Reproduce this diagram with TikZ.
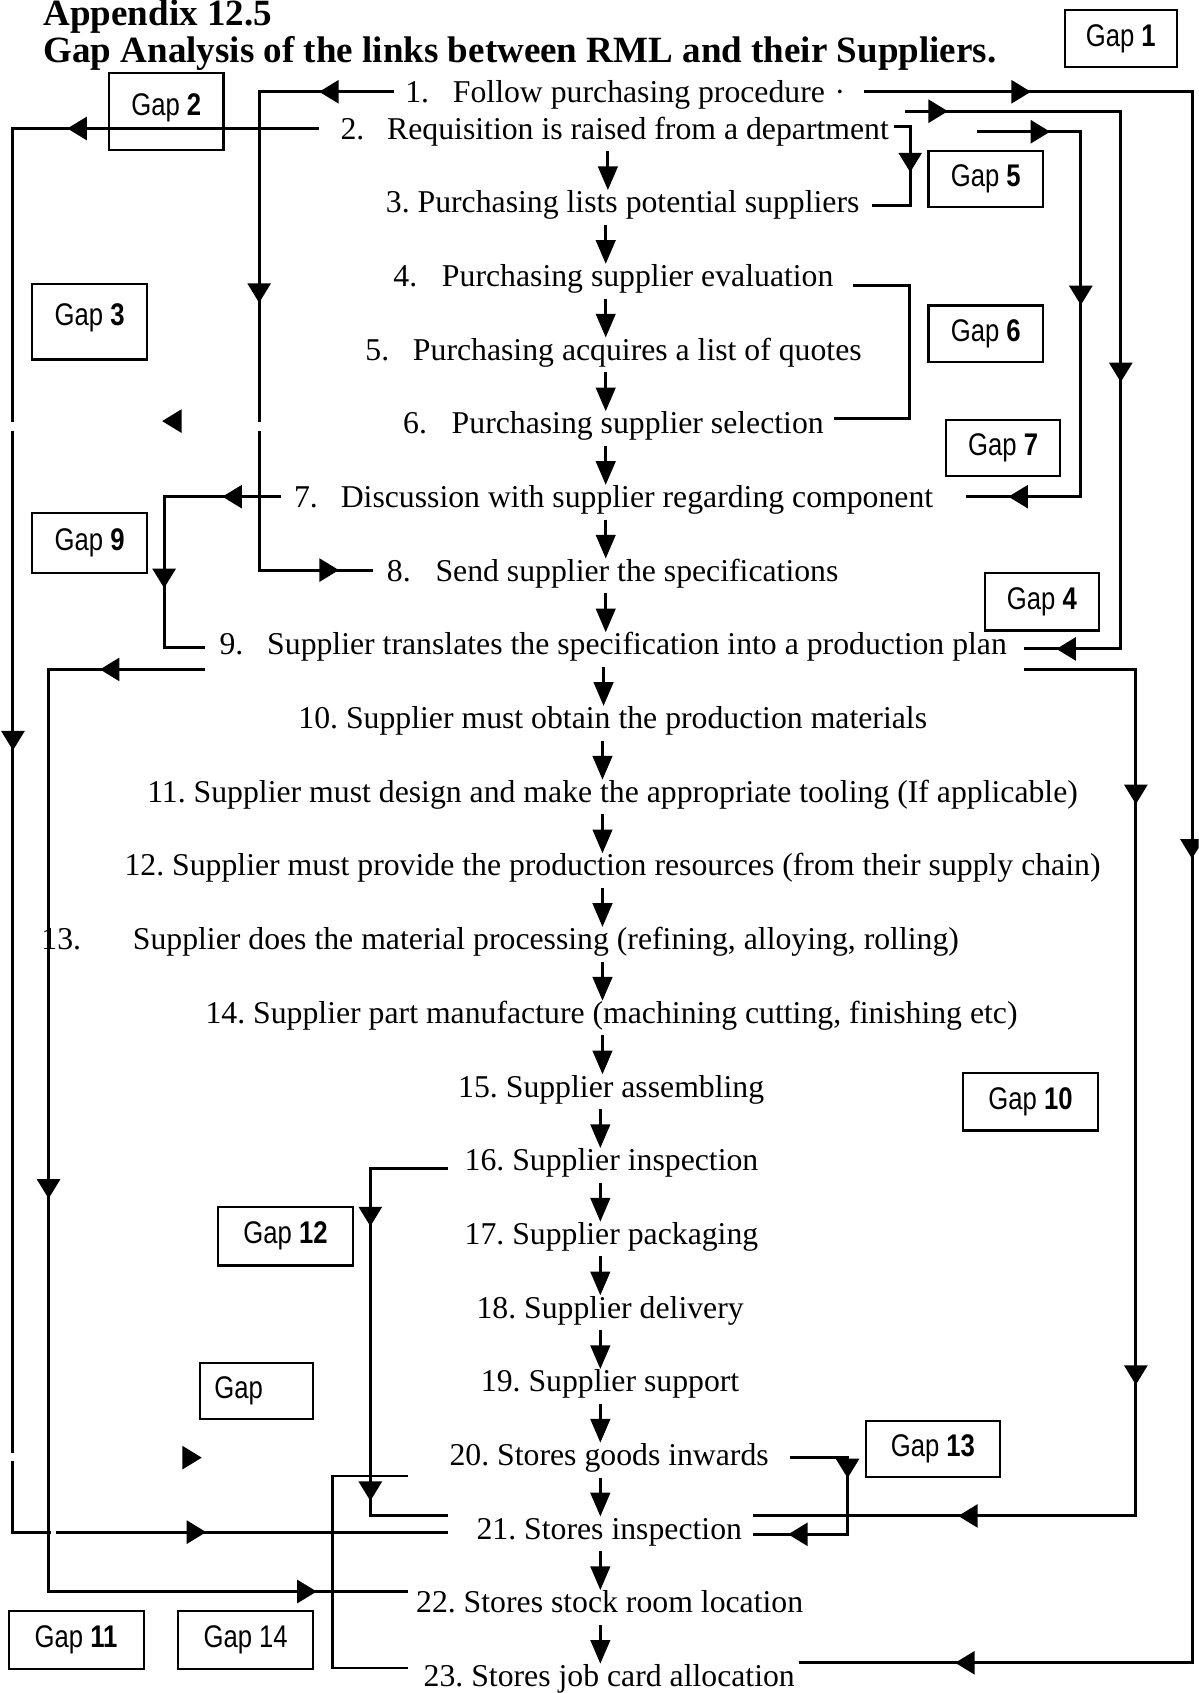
\documentclass[tikz,border=0pt]{standalone}
\usepackage{fontspec}
\setmainfont{Liberation Serif}
\newfontfamily\gapfont[FakeStretch=0.82]{Liberation Sans}
\usetikzlibrary{arrows.meta,shapes.geometric}
\frenchspacing
\begin{document}
\begin{tikzpicture}[x=0.5pt,y=-0.5pt,
  row/.style={anchor=west,inner sep=0pt,yshift=-1.5pt,text height=10.3pt,text depth=3.4pt,font=\fontsize{14.7}{17}\selectfont},
  heading/.style={anchor=base west,inner sep=0pt,font=\fontsize{17.15}{20}\selectfont\bfseries},
  gapbox/.style={draw,line width=1pt,inner sep=0pt,font=\gapfont\fontsize{14.5}{17}\selectfont},
  conn/.style={line width=1.4pt},
  fineconn/.style={line width=1pt},
  tri/.style={isosceles triangle,isosceles triangle stretches=true,minimum width=11pt,minimum height=9pt,inner sep=0pt,fill=black,draw=none},
  tipmark/.style={tri,sloped,allow upside down},
  flow/.style={line width=1.4pt,shorten <=2pt,-{Triangle[length=11pt,width=9pt]}}
]
\useasboundingbox (0,0) rectangle (1110,1568);
\clip (0,0) rectangle (1110,1568);

% headings
\node[heading] (t1) at (40,24) {Appendix 12.5};
\node[heading] (t2) at (40,58) {Gap Analysis of the links between RML and their Suppliers.};

% process steps
\node[row] (r1)  at (375,85)     {1.\hspace{0.75em}Follow purchasing procedure\hspace{0.3em}·};
\node[row] (r2)  at (315,119)    {2.\hspace{0.72em}Requisition is raised from a department};
\node[row] (r3)  at (357,187.2)  {3. Purchasing lists potential suppliers};
\node[row] (r4)  at (364,255.5)  {4.\hspace{0.78em}Purchasing supplier evaluation};
\node[row] (r5)  at (338,323.7)  {5.\hspace{0.75em}Purchasing acquires a list of quotes};
\node[row] (r6)  at (373,392)    {6.\hspace{0.78em}Purchasing supplier selection};
\node[row] (r7)  at (272,460.2)  {7.\hspace{0.72em}Discussion with supplier regarding component};
\node[row] (r8)  at (358,528.4)  {8.\hspace{0.78em}Send supplier the specifications};
\node[row] (r9)  at (203,596.7)  {9.\hspace{0.75em}Supplier translates the specification into a production plan};
\node[row] (r10) at (276,664.9)  {10. Supplier must obtain the production materials};
\node[row] (r11) at (136,733.2)  {11. Supplier must design and make the appropriate tooling (If applicable)};
\node[row] (r12) at (115,801.4)  {12. Supplier must provide the production resources (from their supply chain)};
\node[row] (r13) at (38,869.6)   {13.\hspace{1.63em}Supplier does the material processing (refining, alloying, rolling)};
\node[row] (r14) at (190,937.9)  {14. Supplier part manufacture (machining cutting, finishing etc)};
\node[row] (r15) at (424,1006.1) {15. Supplier assembling};
\node[row] (r16) at (430,1074.4) {16. Supplier inspection};
\node[row] (r17) at (430,1142.6) {17. Supplier packaging};
\node[row] (r18) at (441,1210.8) {18. Supplier delivery};
\node[row] (r19) at (445,1279.1) {19. Supplier support};
\node[row] (r20) at (416,1347.3) {20. Stores goods inwards};
\node[row] (r21) at (441,1415.6) {21. Stores inspection};
\node[row] (r22) at (385,1483.8) {22. Stores stock room location};
\node[row] (r23) at (392,1552)   {23. Stores job card allocation};

% main flow arrows
\foreach \a/\b/\x in {r2/r3/563,r3/r4/561,r4/r5/561,r5/r6/561,r6/r7/561,r7/r8/561,r8/r9/561,
  r9/r10/559,r10/r11/558,r11/r12/558,r12/r13/558,r13/r14/558,r14/r15/558,r15/r16/556,
  r16/r17/556,r17/r18/556,r18/r19/556,r19/r20/556,r20/r21/556,r21/r22/556,r22/r23/556}
  \draw[flow] (\a.south -| \x,0) -- (\b.north -| \x,0);

% gap labels
\node[gapbox,minimum width=52pt,minimum height=26.5pt] (g1)  at (1038,35.5)  {Gap \textbf{1}};
\node[gapbox,minimum width=53pt,minimum height=35.5pt] (g2)  at (154,103.5)  {\raisebox{7pt}{Gap \textbf{2}}};
\node[gapbox,minimum width=53pt,minimum height=35pt]   (g3)  at (83,298)     {\raisebox{6.5pt}{Gap \textbf{3}}};
\node[gapbox,minimum width=53pt,minimum height=26pt]   (g5)  at (913,166)    {Gap \textbf{5}};
\node[gapbox,minimum width=53pt,minimum height=26pt]   (g6)  at (913,309)    {Gap \textbf{6}};
\node[gapbox,minimum width=53pt,minimum height=26pt]   (g7)  at (929,415)    {Gap \textbf{7}};
\node[gapbox,minimum width=53pt,minimum height=28pt]   (g9)  at (83,503)     {Gap \textbf{9}};
\node[gapbox,minimum width=53pt,minimum height=26.5pt] (g4)  at (965,557.5)  {Gap \textbf{4}};
\node[gapbox,minimum width=62.5pt,minimum height=26.5pt] (g10) at (954.5,1020.5) {Gap \textbf{10}};
\node[gapbox,minimum width=62.5pt,minimum height=27pt] (g12) at (264.5,1145) {Gap \textbf{12}};
\node[gapbox,minimum width=52.5pt,minimum height=26pt] (gx)  at (237.5,1288) {Gap\phantom{ 14}};
\node[gapbox,minimum width=62pt,minimum height=26pt]   (g13) at (864,1342)   {Gap \textbf{13}};
\node[gapbox,minimum width=62.5pt,minimum height=27pt] (g11) at (70.5,1519)  {Gap \textbf{11}};
\node[gapbox,minimum width=62.5pt,minimum height=27pt] (g14) at (227.5,1519) {Gap 14};

% corner points of the gap links
\coordinate (a1) at (800,85);   \coordinate (a2) at (1104,85);
\coordinate (a3) at (1104,1540);\coordinate (a4) at (740,1540);
\coordinate (b1) at (838,103);  \coordinate (b2) at (1038,103);
\coordinate (b3) at (1038,601); \coordinate (b4) at (948,601);
\coordinate (c1) at (905,122);  \coordinate (c2) at (1001,122);
\coordinate (c3) at (1001,460); \coordinate (c4) at (895,460);
\coordinate (d1) at (365,85);   \coordinate (d2) at (240,85);
\coordinate (d3) at (240,391);  \coordinate (d4) at (240,399);
\coordinate (d5) at (240,528);  \coordinate (d6) at (345,528);
\coordinate (e1) at (295,119);  \coordinate (e2) at (12,119);
\coordinate (e3) at (12,391);   \coordinate (e4) at (12,399);
\coordinate (e5) at (12,1346);  \coordinate (e6) at (12,1353);
\coordinate (e7) at (12,1419);  \coordinate (e8) at (47,1419);
\coordinate (e9) at (52,1419);  \coordinate (e10) at (415,1419);
\coordinate (f1) at (828,117);  \coordinate (f2) at (843,117);
\coordinate (f3) at (843,190);  \coordinate (f4) at (808,190);
\coordinate (h1) at (790,264);  \coordinate (h2) at (842,264);
\coordinate (h3) at (842,388);  \coordinate (h4) at (772,388);
\coordinate (i1) at (260,460);  \coordinate (i2) at (152,460);
\coordinate (i3) at (152,600);  \coordinate (i4) at (190,600);
\coordinate (j1) at (190,620);  \coordinate (j2) at (45,620);
\coordinate (j3) at (45,1474);  \coordinate (j4) at (378,1474);
\coordinate (k1) at (948,620);  \coordinate (k2) at (1052,620);
\coordinate (k3) at (1052,1404);\coordinate (k4) at (697,1404);
\coordinate (l1) at (732,1350); \coordinate (l2) at (785,1350);
\coordinate (l3) at (785,1421); \coordinate (l4) at (697,1421);
\coordinate (m1) at (415,1082); \coordinate (m2) at (343,1082);
\coordinate (m3) at (343,1404); \coordinate (m4) at (415,1404);
\coordinate (n1) at (378,1367); \coordinate (n2) at (308,1367);
\coordinate (n3) at (308,1545); \coordinate (n4) at (378,1545);

% Gap 1: step 1 to step 23
\draw[conn] (a1) -- node[tipmark,pos=.47]{} (a2) -- node[tipmark,pos=.48]{} (a3) -- node[tipmark,pos=.57]{} (a4);
% Gap 4: into step 9
\draw[conn] (b1) -- node[tipmark,pos=.14]{} (b2) -- node[tipmark,pos=.48]{} (b3) -- node[tipmark,pos=.53]{} (b4);
% Gap 7: into step 7
\draw[conn] (c1) -- node[tipmark,pos=.58]{} (c2) -- node[tipmark,pos=.44]{} (c3) -- node[tipmark,pos=.52]{} (c4);
% Gap 3: step 1 to step 8
\draw[conn] (d1) -- node[tipmark,pos=.46]{} (d2) -- node[tipmark,pos=.6]{} (d3);
\draw[conn] (d4) -- (d5) -- node[tipmark,pos=.59]{} (d6);
% Gap 2: step 2 to step 21
\draw[conn] (e1) -- node[tipmark,pos=.78]{} (e2) -- (e3);
\draw[conn] (e4) -- node[tipmark,pos=.30]{} (e5);
\draw[conn] (e6) -- (e7) -- (e8);
\draw[conn] (e9) -- node[tipmark,pos=.35]{} (e10);
% Gap 5: step 2 to step 3
\draw[conn] (f1) -- (f2) -- node[tipmark,pos=.42]{} (f3) -- (f4);
% Gap 6: steps 4 to 6
\draw[conn] (h1) -- (h2) -- (h3) -- (h4);
% Gap 9: step 7 to step 9
\draw[conn] (i1) -- node[tipmark,pos=.39]{} (i2) -- node[tipmark,pos=.52]{} (i3) -- (i4);
% Gap 11: step 9 to step 22
\draw[conn] (j1) -- node[tipmark,pos=.59]{} (j2) -- node[tipmark,pos=.56]{} (j3) -- node[tipmark,pos=.71]{} (j4);
% Gap 10: step 9 to step 21
\draw[conn] (k1) -- (k2) -- node[tipmark,pos=.144]{} node[tipmark,pos=.83]{} (k3) -- node[tipmark,pos=.43]{} (k4);
% Gap 13: step 20 to step 21
\draw[conn] (l1) -- (l2) -- node[tipmark,pos=.1]{} (l3) -- node[tipmark,pos=.49]{} (l4);
% Gap 12: step 16 to step 21
\draw[conn] (m1) -- (m2) -- node[tipmark,pos=.13]{} node[tipmark,pos=.92]{} (m3) -- (m4);
% Gap 14: step 20/21 to step 23
\draw[fineconn] (n1) -- (n2) -- (n3) -- (n4);

% loose arrow heads
\node[tri,rotate=180] (s1) at (162,390) {};
\node[tri] (s2) at (175,1350) {};
\end{tikzpicture}
\end{document}
